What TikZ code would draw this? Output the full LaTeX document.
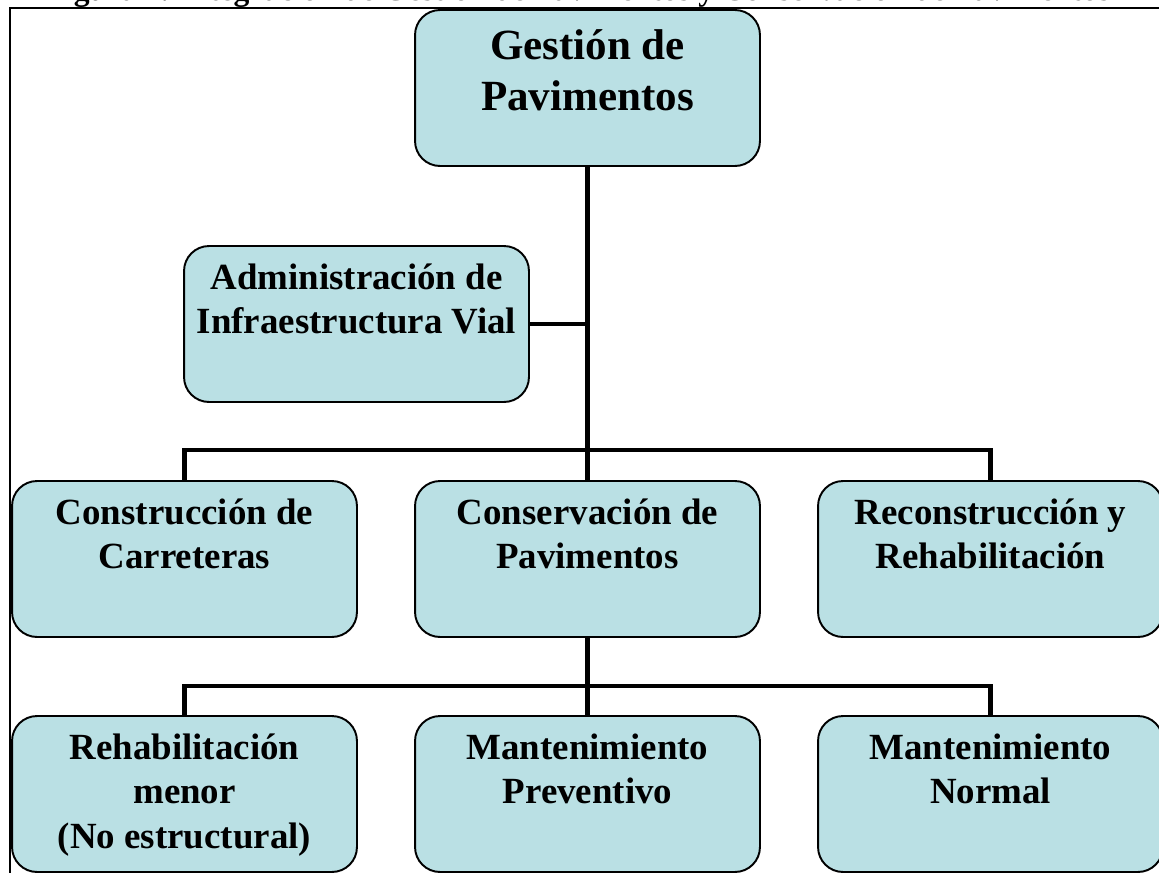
\documentclass[tikz,border=0pt]{standalone}
\usepackage{fontspec}
\setmainfont{Liberation Serif}
\usetikzlibrary{positioning}
\definecolor{cajaAzul}{RGB}{186,224,228}

\begin{document}
\begin{tikzpicture}
[x=0.02cm,y=-0.02cm,
  lineDecorate/.style={-,line width=2.8pt},%
  cajaDecorate/.style={shape=rectangle,rounded corners=0.5cm,draw,line width=1.1pt,
    fill=cajaAzul,minimum width=6.9cm,minimum height=3.12cm,inner sep=0pt},
  textoDecorate/.style={anchor=north,align=center,inner sep=0pt,
    font=\bfseries\fontsize{21}{25.5}\selectfont}]
\useasboundingbox (0,0) rectangle (1159,872);
%% title, cut by the page
\node (titulo) at (578,1) [anchor=base,font=\bfseries\fontsize{18}{20}\selectfont]
  {Figura 1. Integración de Gestión de Pavimentos y Conservación de Pavimentos};
%% frame
\draw[line width=1.3pt] (10,890) -- (10,8) -- (1175,8);
%% nodes or boxes
\node (gestion) at (587.5,88) [cajaDecorate] {};
\node (gestion-t) at ([yshift=-0.40cm]gestion.north) [textoDecorate,
  font=\bfseries\fontsize{24.5}{29}\selectfont] {Gestión de\\Pavimentos};
\foreach \nodename/\x/\y/\texto in {
  admin/356.5/324/Administración de\\Infraestructura Vial,
  constr/184.5/559/Construcción de\\Carreteras,
  conserv/587.5/559/Conservación de\\Pavimentos,
  recons/990.5/559/Reconstrucción y\\Rehabilitación,
  rehab/184.5/794/Rehabilitación\\menor\\(No estructural),
  mprev/587.5/794/Mantenimiento\\Preventivo,
  mnorm/990.5/794/Mantenimiento\\Normal}
{
  \node (\nodename) at (\x,\y) [cajaDecorate] {};
  \node (\nodename-t) at ([yshift=-0.36cm]\nodename.north) [textoDecorate] {\texto};
}
%% edges or lines
\coordinate (bus1) at (587.5,450);
\coordinate (bus2) at (587.5,686);
\draw[lineDecorate] (gestion) -- (conserv);
\draw[lineDecorate] (admin.east) -- (admin.east -| bus1);
\draw[lineDecorate] (constr) |- (bus1) -| (recons);
\draw[lineDecorate] (conserv) -- (mprev);
\draw[lineDecorate] (rehab) |- (bus2) -| (mnorm);
\end{tikzpicture}
\end{document}
